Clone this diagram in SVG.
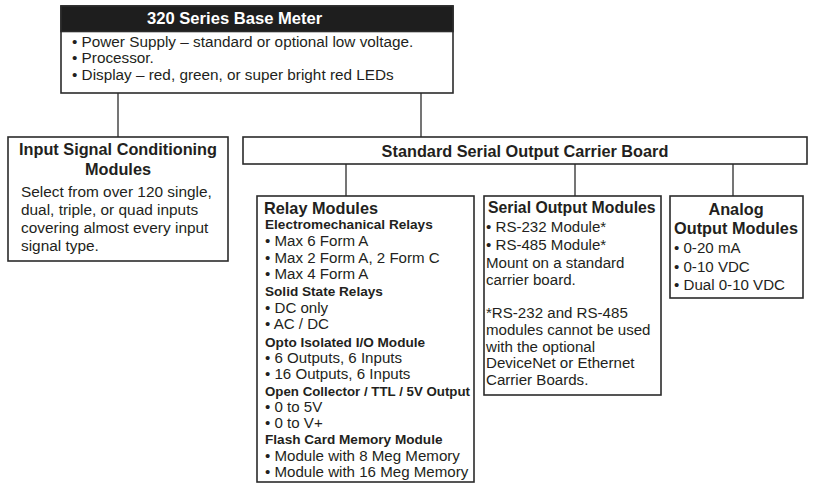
<svg xmlns="http://www.w3.org/2000/svg" width="816" height="487" viewBox="0 0 816 487">
<style>
.box{fill:#fff;stroke:#2b2b2b;stroke-width:1.6}
.hdr{fill:#1e1e1e;stroke:#2b2b2b;stroke-width:1.6}
.ln{stroke:#2b2b2b;stroke-width:1.3;fill:none}
text{font-family:"Liberation Sans",Arial,sans-serif;fill:#231f20}
.t{font-size:16.3px;font-weight:bold}
.s{font-size:13.6px;font-weight:bold}
.b{font-size:15.1px}
.w{fill:#fff}
.c{text-anchor:middle}
</style>
<rect width="816" height="487" fill="#fff"/>
<g id="connectors">
<line class="ln" x1="118" y1="93" x2="118" y2="137"/>
<line class="ln" x1="421" y1="93" x2="421" y2="137"/>
<line class="ln" x1="346" y1="164" x2="346" y2="196"/>
<line class="ln" x1="575" y1="164" x2="575" y2="196"/>
<line class="ln" x1="733" y1="164" x2="733" y2="196"/>
</g>
<g id="base-meter">
<rect class="box" x="61" y="6" width="392" height="87"/>
<rect class="hdr" x="61" y="6" width="392" height="25.5"/>
<text class="t w" x="147" y="24" style="font-size:16.6px">320 Series Base Meter</text>
<text class="b" x="72" y="47" style="font-size:15.3px">• Power Supply – standard or optional low voltage.</text>
<text class="b" x="72" y="63" style="font-size:15.3px">• Processor.</text>
<text class="b" x="72" y="80" style="font-size:15.3px">• Display – red, green, or super bright red LEDs</text>
</g>
<g id="input-signal">
<rect class="box" x="8" y="137" width="220" height="124"/>
<text class="t c" x="118" y="155">Input Signal Conditioning</text>
<text class="t c" x="118" y="175">Modules</text>
<text class="b" x="21" y="197" style="font-size:15.4px">Select from over 120 single,</text>
<text class="b" x="21" y="215" style="font-size:15.4px">dual, triple, or quad inputs</text>
<text class="b" x="21" y="233" style="font-size:15.4px">covering almost every input</text>
<text class="b" x="21" y="251" style="font-size:15.4px">signal type.</text>
</g>
<g id="carrier-board">
<rect class="box" x="243" y="137" width="564" height="27"/>
<text class="t c" x="525" y="157">Standard Serial Output Carrier Board</text>
</g>
<g id="relay-modules">
<rect class="box" x="257" y="196" width="217" height="286"/>
<text class="t" x="264" y="214">Relay Modules</text>
<text class="s" x="265" y="229">Electromechanical Relays</text>
<text class="b" x="265" y="246">• Max 6 Form A</text>
<text class="b" x="265" y="263">• Max 2 Form A, 2 Form C</text>
<text class="b" x="265" y="279">• Max 4 Form A</text>
<text class="s" x="265" y="296">Solid State Relays</text>
<text class="b" x="265" y="313">• DC only</text>
<text class="b" x="265" y="329">• AC / DC</text>
<text class="s" x="265" y="347">Opto Isolated I/O Module</text>
<text class="b" x="265" y="363">• 6 Outputs, 6 Inputs</text>
<text class="b" x="265" y="379">• 16 Outputs, 6 Inputs</text>
<text class="s" x="265" y="396" textLength="205" lengthAdjust="spacingAndGlyphs">Open Collector / TTL / 5V Output</text>
<text class="b" x="265" y="412">• 0 to 5V</text>
<text class="b" x="265" y="428">• 0 to V+</text>
<text class="s" x="265" y="444">Flash Card Memory Module</text>
<text class="b" x="265" y="461">• Module with 8 Meg Memory</text>
<text class="b" x="265" y="477">• Module with 16 Meg Memory</text>
</g>
<g id="serial-output">
<rect class="box" x="484" y="196" width="177" height="199"/>
<text class="t" x="488" y="213" style="font-size:15.8px">Serial Output Modules</text>
<text class="b" x="486" y="232">• RS-232 Module*</text>
<text class="b" x="486" y="250">• RS-485 Module*</text>
<text class="b" x="486" y="268">Mount on a standard</text>
<text class="b" x="486" y="285">carrier board.</text>
<text class="b" x="486" y="318">*RS-232 and RS-485</text>
<text class="b" x="486" y="335">modules cannot be used</text>
<text class="b" x="486" y="352">with the optional</text>
<text class="b" x="486" y="368">DeviceNet or Ethernet</text>
<text class="b" x="486" y="385">Carrier Boards.</text>
</g>
<g id="analog-output">
<rect class="box" x="670" y="196" width="133" height="102"/>
<text class="t c" x="736" y="215">Analog</text>
<text class="t c" x="736" y="234">Output Modules</text>
<text class="b" x="674" y="253">• 0-20 mA</text>
<text class="b" x="674" y="272">• 0-10 VDC</text>
<text class="b" x="674" y="290">• Dual 0-10 VDC</text>
</g>
</svg>
